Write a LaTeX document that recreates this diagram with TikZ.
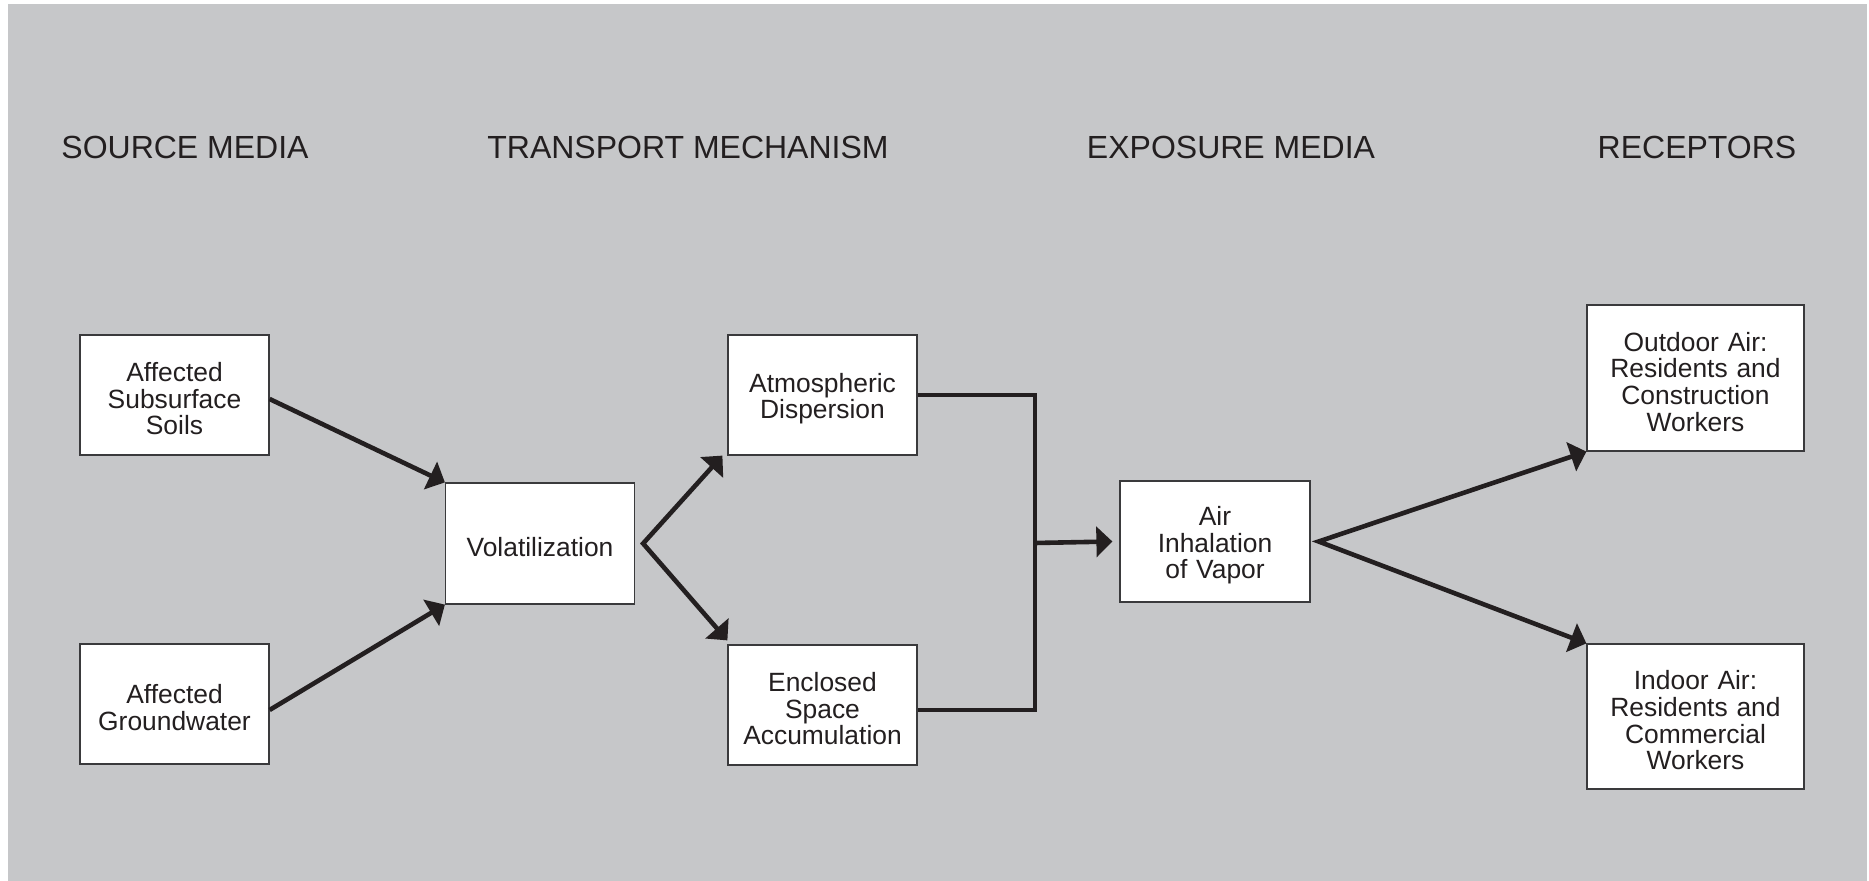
\documentclass[tikz,border=0pt]{standalone}
\usepackage{fontspec}
\setmainfont{Liberation Sans}
\usetikzlibrary{arrows.meta}
\definecolor{bggray}{HTML}{C6C7C9}
\definecolor{ink}{HTML}{231F20}
\definecolor{edge}{HTML}{3A3A3C}
\tikzset{
  box/.style={draw=edge, line width=0.6pt, fill=white, inner sep=2pt, align=center,
    text width=88pt, text=ink, font=\fontsize{13.2}{13.3}\selectfont,
    execute at begin node={\rule{0pt}{13.4pt}\ignorespaces}},
  widebox/.style={box, text width=102pt},
  header/.style={text=ink, font=\fontsize{16}{19}\selectfont, inner sep=0pt},
  flow/.style={draw=ink, line width=2.3pt},
  tip/.style={-{Triangle[length=8pt,width=15pt]}},
  bothtip/.style={{Triangle[length=8pt,width=15pt]}-{Triangle[length=8pt,width=15pt]}}
}
\begin{document}
\begin{tikzpicture}[x=0.5pt,y=-0.5pt]
\useasboundingbox (0,0) rectangle (1869,881);
\fill[bggray] (8,4) rectangle (1867,881);

% headers
\node[header] (h1) at (185,147) {SOURCE MEDIA};
\node[header] (h2) at (688,147) {TRANSPORT MECHANISM};
\node[header] (h3) at (1231,147) {EXPOSURE MEDIA};
\node[header] (h4) at (1697,147) {RECEPTORS};

% boxes
\node[box, minimum width=94.5pt, minimum height=60pt] (soil) at (174.5,395) {Affected\\Subsurface\\Soils};
\node[box, minimum width=94.5pt, minimum height=60pt] (gw) at (174.5,704) {Affected\\Groundwater};
\node[box, minimum width=94.5pt, minimum height=60.5pt] (vol) at (540,543.5) {Volatilization};
\node[box, minimum width=94.5pt, minimum height=60pt] (atm) at (822.5,395) {Atmospheric\\Dispersion};
\node[box, minimum width=94.5pt, minimum height=60pt] (enc) at (822.5,705) {Enclosed\\Space\\Accumulation};
\node[box, minimum width=95pt, minimum height=60.5pt] (air) at (1215,541.5) {Air\\Inhalation\\of Vapor};
\node[widebox, minimum width=108.5pt, minimum height=73pt] (out) at (1695.5,378) {Outdoor Air:\\Residents and\\Construction\\Workers};
\node[widebox, minimum width=108.5pt, minimum height=72.5pt] (ind) at (1695.5,716.5) {Indoor Air:\\Residents and\\Commercial\\Workers};

% junction coordinates
\coordinate (jt) at (1035,395);
\coordinate (jb) at (1035,710);
\coordinate (jm) at (1035,543);

% connectors
\draw[flow,tip] ([yshift=-2pt]soil.east) -- (vol.north west);
\draw[flow,tip] ([yshift=-3pt]gw.east) -- (vol.south west);
\draw[flow,bothtip] ([xshift=-2.5pt]atm.south west) -- ([xshift=4pt]vol.east) -- ([yshift=2pt]enc.north west);
\draw[flow] (atm.east) -- (jt) -- (jb) -- ([yshift=-2.5pt]enc.east);
\draw[flow,tip] (jm) -- ([xshift=-3.5pt]air.west);
\draw[flow,bothtip] (out.south west) -- ([xshift=4pt]air.east) -- (ind.north west);
\end{tikzpicture}
\end{document}
